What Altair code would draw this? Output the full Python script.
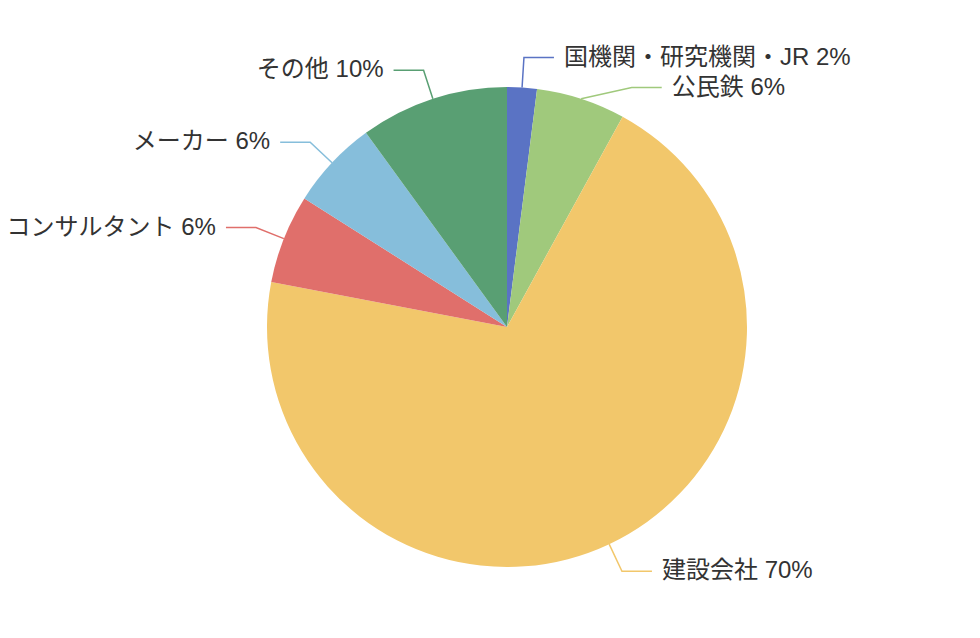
import math
import altair as alt
import pandas as pd

# ---- data ----
categories = ["国機関・研究機関・JR", "公民鉄", "建設会社", "コンサルタント", "メーカー", "その他"]
values = [2, 6, 70, 6, 6, 10]
colors = ["#5a73c4", "#a0c97c", "#f2c76b", "#e06f6b", "#86bedb", "#599f73"]

# ---- layout constants ----
W, H = 964, 622
CX, CY = 499, 319
R = 240
LEN1, LEN2, GAP = 30, 30, 10
LABEL_H = 30
FONT = "Liberation Sans, Noto Sans CJK JP, sans-serif"

total = sum(values)
items = []
cum = 0
for i, (c, v) in enumerate(zip(categories, values)):
    th = 2 * math.pi * (cum + v / 2) / total
    cum += v
    s, co = math.sin(th), math.cos(th)
    side = 1 if s >= 0 else -1
    items.append(dict(
        cat=c, idx=i, value=v, side=side,
        ex=CX + R * s, ey=CY - R * co,
        bx=CX + (R + LEN1) * s, by=CY - (R + LEN1) * co,
    ))

# simple overlap avoidance per side (like ECharts)
for side in (1, -1):
    group = sorted([it for it in items if it["side"] == side], key=lambda d: d["by"])
    prev = None
    for it in group:
        if prev is not None and it["by"] < prev + LABEL_H:
            it["by"] = prev + LABEL_H
            dy = it["by"] - CY
            rr = R + LEN1
            it["bx"] = CX + side * math.sqrt(max(0.0, rr * rr - dy * dy))
        prev = it["by"]

arc_df = pd.DataFrame({"cat": categories, "value": values, "idx": list(range(len(values)))})

line_rows, text_rows = [], []
for it in items:
    endx = it["bx"] + it["side"] * LEN2
    line_rows += [
        dict(cat=it["cat"], ord=0, x=it["ex"], y=it["ey"]),
        dict(cat=it["cat"], ord=1, x=it["bx"], y=it["by"]),
        dict(cat=it["cat"], ord=2, x=endx, y=it["by"]),
    ]
    text_rows.append(dict(cat=it["cat"], side=it["side"],
                          x=endx + it["side"] * GAP, y=it["by"],
                          label=f"{it['cat']} {it['value']}%"))
line_df = pd.DataFrame(line_rows)
text_df = pd.DataFrame(text_rows)

color_scale = alt.Scale(domain=categories, range=colors)
xs = alt.Scale(domain=[0, W], nice=False, zero=False)
ys = alt.Scale(domain=[H, 0], nice=False, zero=False)

arcs = alt.Chart(arc_df).mark_arc(outerRadius=R, x=CX, y=CY).encode(
    theta=alt.Theta("value:Q", stack=True),
    color=alt.Color("cat:N", scale=color_scale, legend=None),
    order=alt.Order("idx:Q"),
)

lines = alt.Chart(line_df).mark_line(strokeWidth=1.5).encode(
    x=alt.X("x:Q", scale=xs, axis=None),
    y=alt.Y("y:Q", scale=ys, axis=None),
    color=alt.Color("cat:N", scale=color_scale, legend=None),
    detail="cat:N",
    order=alt.Order("ord:Q"),
)

text_base = alt.Chart(text_df).encode(
    x=alt.X("x:Q", scale=xs, axis=None),
    y=alt.Y("y:Q", scale=ys, axis=None),
    text="label:N",
)
text_right = text_base.transform_filter("datum.side > 0").mark_text(
    align="left", baseline="middle", font=FONT, fontSize=24, color="#333333")
text_left = text_base.transform_filter("datum.side < 0").mark_text(
    align="right", baseline="middle", font=FONT, fontSize=24, color="#333333")

chart = alt.layer(arcs, lines, text_right, text_left).properties(
    width=W, height=H, padding=0,
    autosize=alt.AutoSizeParams(type="none"),
).configure_view(stroke=None)

chart.save("out.html", embed_options={"renderer": "svg", "actions": False})
